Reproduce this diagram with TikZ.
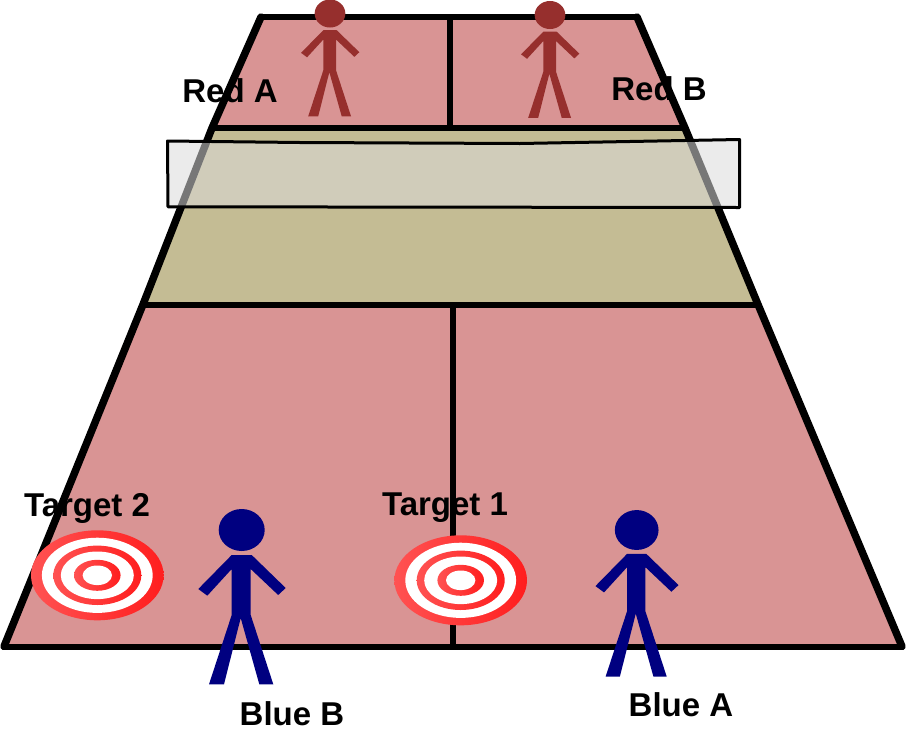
\documentclass[tikz,border=0pt]{standalone}
\usepackage{fontspec}
\setmainfont{Liberation Sans}
\definecolor{courtpink}{HTML}{D99494}
\definecolor{courttan}{HTML}{C4BC94}
\definecolor{netgrey}{HTML}{DADADA}
\definecolor{redplayer}{HTML}{962F2D}
\definecolor{blueplayer}{HTML}{000080}
\definecolor{ringlight}{HTML}{FF5252}
\definecolor{ringdark}{HTML}{FF1E1E}
\tikzset{
  courtline/.style={line width=6pt,line join=round,line cap=round},
  courtside/.style={line width=7.5pt,line join=round,line cap=round},
  netbox/.style={draw=black,line width=3pt,fill=netgrey,fill opacity=.55,line join=round},
  lab/.style={font=\bfseries\fontsize{33}{36}\selectfont,text=black,inner sep=0pt,anchor=base},
  ring/.style={shading=axis,left color=ringlight,right color=ringdark,shading angle=90},
}
% player: head centre at (#1,#2), scale #3, colour #4
\newcommand{\stickplayer}[4]{%
  \begin{scope}[shift={(#1,#2)},scale=#3]
    \fill[#4] (0,0) ellipse [x radius=23,y radius=21];
    \fill[#4] (-10,25) -- (10,25) -- (44,58) -- (36.5,65) -- (9,39) -- (9,85)
      -- (31.6,154.3) -- (17.6,154.3) -- (-1,88) -- (-17.7,154.3) -- (-32.7,154.3)
      -- (-10,85) -- (-10,39) -- (-34.4,65.7) -- (-43.4,59) -- cycle;
  \end{scope}}
\newcommand{\bullseye}[2]{%
  \begin{scope}[shift={(#1,#2)}]
    \path[ring] (0,0) ellipse [x radius=66.3,y radius=45];
    \fill[white] (0,0) ellipse [x radius=55.4,y radius=37.6];
    \path[ring] (0,0) ellipse [x radius=44,y radius=29.7];
    \fill[white] (0,0) ellipse [x radius=36.5,y radius=23.8];
    \path[ring] (0,0) ellipse [x radius=23.3,y radius=15.5];
    \fill[white] (0,0) ellipse [x radius=14.7,y radius=9.8];
  \end{scope}}
\begin{document}
\begin{tikzpicture}[x=1pt,y=-1pt]
\useasboundingbox (0,0) rectangle (906,753);
% court surfaces
\fill[courtpink] (261,17) -- (637,17) -- (685,128) -- (212,128) -- cycle;
\fill[courttan] (212,128) -- (685,128) -- (758,304.5) -- (143,304.5) -- cycle;
\fill[courtpink] (143,304.5) -- (758,304.5) -- (902,646.5) -- (4,646.5) -- cycle;
% court lines
\draw[courtline] (212,128) -- (685,128);
\draw[courtline] (143,304.5) -- (758,304.5);
\draw[courtline] (261,17) -- (637,17);
\draw[courtline] (4,646.5) -- (902,646.5);
\draw[courtline,line cap=butt] (450,17) -- (450,128);
\draw[courtline,line cap=butt] (453,304) -- (453,646);
\draw[courtside] (261,17) -- (212,128) -- (143,304.5) -- (4,646.5);
\draw[courtside] (637,17) -- (685,128) -- (758,304.5) -- (902,646.5);
% net
\path[netbox] (167.5,141) -- (300,142.5) -- (520,143.5) -- (739.5,139.5) -- (739.5,207.5) -- (168,206.8) -- cycle;
% targets
\bullseye{97.3}{575.3}
\bullseye{460.7}{580.3}
% players
\stickplayer{330}{13.5}{0.667}{redplayer}
\stickplayer{550}{15}{0.667}{redplayer}
\stickplayer{241.7}{530}{1}{blueplayer}
\stickplayer{636.7}{530}{0.95}{blueplayer}
% labels
\node[lab] (redA) at (230,102.5) {Red A};
\node[lab] (redB) at (659,100.5) {Red B};
\node[lab] (tgt2) at (87,516) {Target 2};
\node[lab] (tgt1) at (445,515) {Target 1};
\node[lab] (blueB) at (292,725.3) {Blue B};
\node[lab] (blueA) at (681,716) {Blue A};
\end{tikzpicture}
\end{document}
